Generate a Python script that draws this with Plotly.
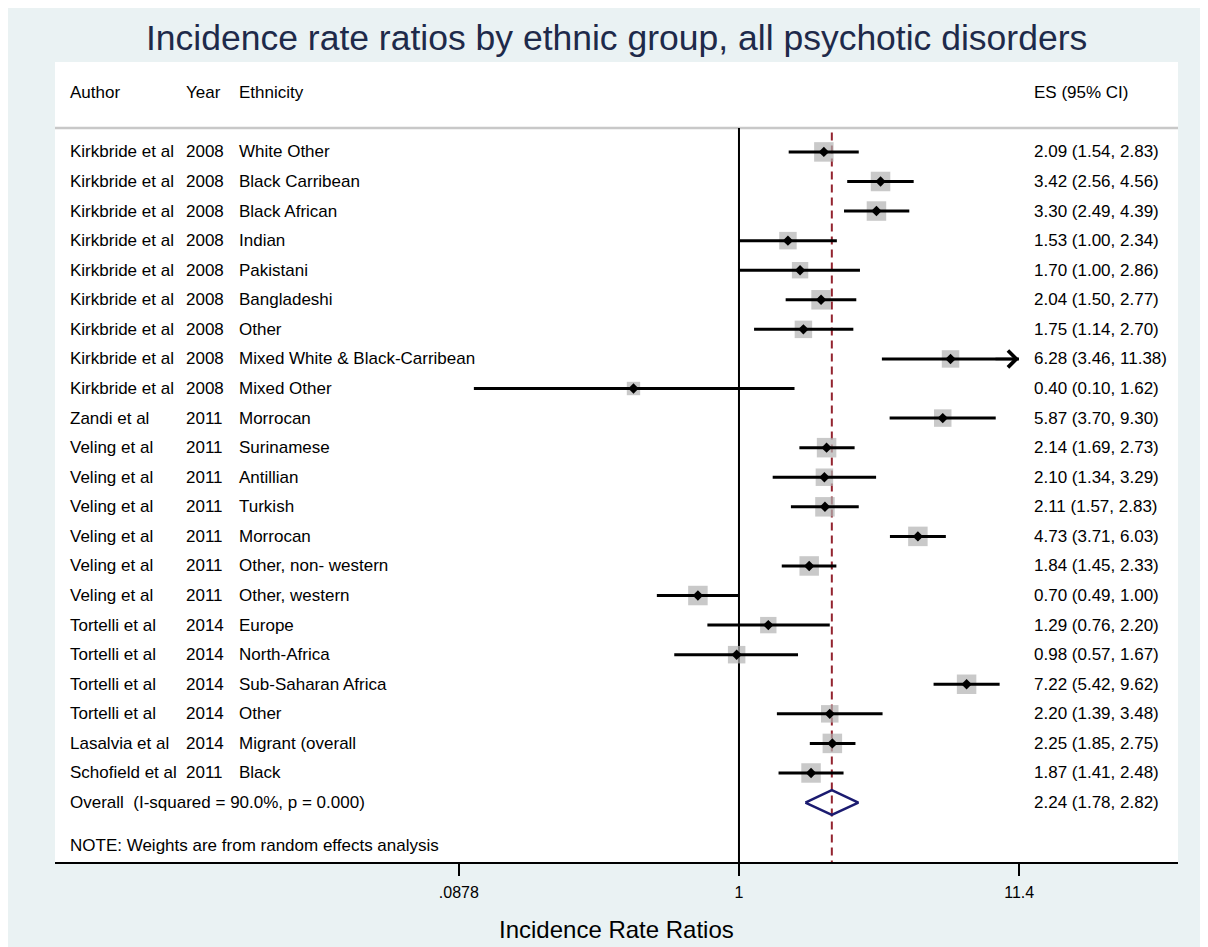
import numpy as np
import plotly.graph_objects as go

# ---------------- data ----------------
authors = ["Kirkbride et al"] * 9 + ["Zandi et al"] + ["Veling et al"] * 6 + \
          ["Tortelli et al"] * 4 + ["Lasalvia et al", "Schofield et al"]
years = ["2008"] * 9 + ["2011"] + ["2011"] * 6 + ["2014"] * 4 + ["2014", "2011"]
ethnicity = ["White Other", "Black Carribean", "Black African", "Indian", "Pakistani",
             "Bangladeshi", "Other", "Mixed White & Black-Carribean", "Mixed Other",
             "Morrocan", "Surinamese", "Antillian", "Turkish", "Morrocan",
             "Other, non- western", "Other, western", "Europe", "North-Africa",
             "Sub-Saharan Africa", "Other", "Migrant (overall", "Black"]
es = [2.09, 3.42, 3.30, 1.53, 1.70, 2.04, 1.75, 6.28, 0.40, 5.87, 2.14, 2.10, 2.11,
      4.73, 1.84, 0.70, 1.29, 0.98, 7.22, 2.20, 2.25, 1.87]
ci_low = [1.54, 2.56, 2.49, 1.00, 1.00, 1.50, 1.14, 3.46, 0.10, 3.70, 1.69, 1.34, 1.57,
          3.71, 1.45, 0.49, 0.76, 0.57, 5.42, 1.39, 1.85, 1.41]
ci_high = [2.83, 4.56, 4.39, 2.34, 2.86, 2.77, 2.70, 11.38, 1.62, 9.30, 2.73, 3.29, 2.83,
           6.03, 2.33, 1.00, 2.20, 1.67, 9.62, 3.48, 2.75, 2.48]
# approximate random-effects weights (%), read from square sizes
weights = [5.1, 5.1, 5.1, 4.1, 3.6, 5.1, 4.1, 4.1, 2.4, 4.1, 5.1, 4.1, 5.1,
           5.1, 5.1, 5.1, 3.6, 4.1, 5.1, 4.1, 5.1, 5.1]
overall_es, overall_low, overall_high = 2.24, 1.78, 2.82
overall_label = "Overall  (I-squared = 90.0%, p = 0.000)"
note_text = "NOTE: Weights are from random effects analysis"
header_cols = ["Author", "Year", "Ethnicity", "ES (95% CI)"]
tick_vals = [0.0878, 1, 11.4]
tick_text = [".0878", "1", "11.4"]
title_text = "Incidence rate ratios by ethnic group, all psychotic disorders"
x_title = "Incidence Rate Ratios"

# ---------------- layout geometry ----------------
OFF = 8                      # page body margin
W, H = 1208, 947 - OFF
ML, MR, MT, MB = 55 - OFF, 30 + OFF, 62 - OFF, 85
PW, PH = W - ML - MR, H - MT - MB


def px_x(px):   # screen pixel -> paper x
    return (px - OFF - ML) / PW


def px_y(py):   # screen pixel -> paper y
    return (H - MB - (py - OFF)) / PH


n = len(es)
rows = np.arange(1, n + 1)
overall_row = n + 1
note_row = n + 2.44
header_row = -1.0
sep_row = 0.19
y_bottom, y_top = n + 3.01, -2.04

FONT = "Liberation Sans, Arial, sans-serif"
TXT = dict(family=FONT, size=17, color="black")

fig = go.Figure()

# reference line at 1 and dashed overall line
fig.add_trace(go.Scatter(x=[1, 1], y=[sep_row, y_bottom], mode="lines",
                         line=dict(color="black", width=2), hoverinfo="skip"))
fig.add_trace(go.Scatter(x=[overall_es, overall_es], y=[sep_row + 0.15, y_bottom], mode="lines",
                         line=dict(color="#93242F", width=2, dash="8px,5px"), hoverinfo="skip"))

# weight squares
sizes = [19.5 * np.sqrt(w / 5.1) for w in weights]
fig.add_trace(go.Scatter(x=es, y=rows, mode="markers",
                         marker=dict(symbol="square", size=sizes, color="#B2B2B2",
                                     line=dict(width=0)), hoverinfo="skip"))

# CI lines
cx, cy = [], []
for lo, hi, r in zip(ci_low, ci_high, rows):
    cx += [lo, hi, None]
    cy += [r, r, None]
fig.add_trace(go.Scatter(x=cx, y=cy, mode="lines", line=dict(color="black", width=3),
                         hoverinfo="skip"))

# point estimates
fig.add_trace(go.Scatter(x=es, y=rows, mode="markers",
                         marker=dict(symbol="diamond", size=8, color="black"), hoverinfo="skip"))

# overall diamond
h = 0.42
fig.add_trace(go.Scatter(x=[overall_low, overall_es, overall_high, overall_es, overall_low],
                         y=[overall_row, overall_row - h, overall_row, overall_row + h, overall_row],
                         mode="lines", line=dict(color="#1B1B70", width=2.5), hoverinfo="skip"))

# arrows for CIs reaching the axis limit
clip = 1 / tick_vals[0]
for hi, r in zip(ci_high, rows):
    if hi >= 0.995 * clip:
        fig.add_annotation(x=np.log10(hi), y=r, xref="x", yref="y", ax=-25, ay=0,
                           showarrow=True, arrowhead=4, arrowsize=1.3, arrowwidth=2.5,
                           arrowcolor="black", text="")

annotations = []
col_x = [px_x(68), px_x(184), px_x(237), px_x(1032)]
for i, txt in enumerate(header_cols):
    annotations.append(dict(x=col_x[i], y=header_row, xref="paper", yref="y", text=txt,
                            showarrow=False, xanchor="left", yanchor="middle", font=TXT))
for a, yv, e, m, lo, hi, r in zip(authors, years, ethnicity, es, ci_low, ci_high, rows):
    annotations.append(dict(x=col_x[0], y=r, xref="paper", yref="y", text=a, showarrow=False,
                            xanchor="left", yanchor="middle", font=TXT))
    annotations.append(dict(x=col_x[1], y=r, xref="paper", yref="y", text=yv, showarrow=False,
                            xanchor="left", yanchor="middle", font=TXT))
    annotations.append(dict(x=col_x[2], y=r, xref="paper", yref="y", text=e, showarrow=False,
                            xanchor="left", yanchor="middle", font=TXT))
    annotations.append(dict(x=col_x[3], y=r, xref="paper", yref="y",
                            text=f"{m:.2f} ({lo:.2f}, {hi:.2f})", showarrow=False,
                            xanchor="left", yanchor="middle", font=TXT))
annotations.append(dict(x=col_x[0], y=overall_row, xref="paper", yref="y", text=overall_label,
                        showarrow=False, xanchor="left", yanchor="middle", font=TXT))
annotations.append(dict(x=col_x[3], y=overall_row, xref="paper", yref="y",
                        text=f"{overall_es:.2f} ({overall_low:.2f}, {overall_high:.2f})",
                        showarrow=False, xanchor="left", yanchor="middle", font=TXT))
annotations.append(dict(x=col_x[0], y=note_row, xref="paper", yref="y", text=note_text,
                        showarrow=False, xanchor="left", yanchor="middle", font=TXT))
# title and axis title
annotations.append(dict(x=0.5, y=px_y(38), xref="paper", yref="paper", text=title_text,
                        showarrow=False, xanchor="center", yanchor="middle",
                        font=dict(family=FONT, size=35.5, color="#1E2A4A")))
annotations.append(dict(x=0.5, y=px_y(929), xref="paper", yref="paper", text=x_title,
                        showarrow=False, xanchor="center", yanchor="middle",
                        font=dict(family=FONT, size=24, color="black")))
for a in annotations:
    fig.add_annotation(**a)

shapes = [
    # header separator
    dict(type="line", xref="paper", yref="y", x0=0, x1=1, y0=sep_row, y1=sep_row,
         line=dict(color="#C8C8C8", width=2.5), layer="below"),
]

fig.update_layout(
    width=W, height=H,
    margin=dict(l=ML, r=MR, t=MT, b=MB),
    paper_bgcolor="#EAF2F3", plot_bgcolor="white",
    showlegend=False,
    shapes=shapes,
    xaxis=dict(type="log", range=[-2.580, 1.656], tickvals=tick_vals, ticktext=tick_text,
               ticks="outside", ticklen=12, tickwidth=2, tickcolor="black",
               ticklabelstandoff=3,
               showline=True, linewidth=2, linecolor="black", showgrid=False, zeroline=False,
               tickfont=dict(family=FONT, size=16, color="black")),
    yaxis=dict(range=[y_bottom, y_top], visible=False, showgrid=False, zeroline=False),
)

fig.write_html("out.html")
